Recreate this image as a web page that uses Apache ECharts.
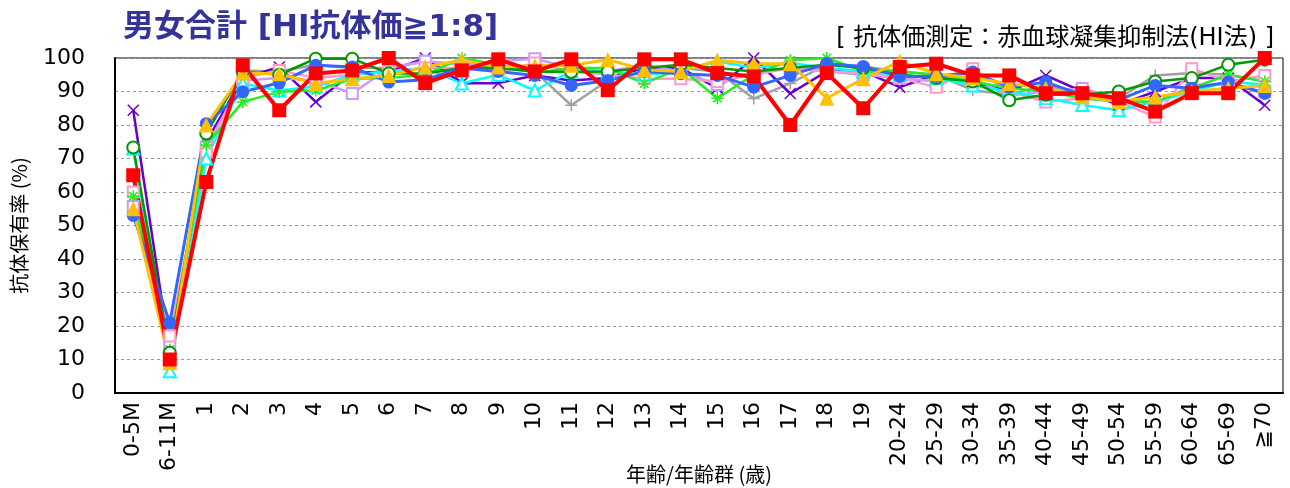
<!DOCTYPE html>
<html><head><meta charset="utf-8">
<script src="https://cdn.jsdelivr.net/npm/echarts@6/dist/echarts.min.js"></script>
<style>html,body{margin:0;padding:0;background:#fff}#c{width:1290px;height:488px}</style>
</head><body><div id="c"></div>
<script>
const categories = ['0-5M','6-11M','1','2','3','4','5','6','7','8','9','10','11','12','13','14','15','16','17','18','19','20-24','25-29','30-34','35-39','40-44','45-49','50-54','55-59','60-64','65-69','≧70'];
const yTicks = [0,10,20,30,40,50,60,70,80,90,100];

const sGray    = [57,13.6,72,96.3,96,98,97,97,99,98,97,96,85.9,93.3,96,97,96,87.9,92.4,98,97.5,96,95,90.4,89,92,89,88,94.8,95.5,95,93];
const sPurple  = [84.4,12,75,94,97.3,86.9,95.5,96,100,92.5,92.5,94.8,93.3,94,97,97,91,100,89.4,96,96,91.3,95,93,90,94.8,90,86,90,94,94,85.9];
const sLilac   = [55.7,14,73.4,93.3,94,93.3,89.4,97,99,98,99,99.8,97,96,98,96,92.1,96,97,96,95,94,93,94,88.8,90,90.9,88,86,92,92,90];
const sPink    = [60,17,72,94,96.3,94,95,96,97,97,95.8,98.5,96,95,93.8,93.8,93,95,97,96,95.5,94,91.3,96.8,90,86.9,88,87,82.4,96.8,93,94.8];
const sCyan    = [73,6.5,70,92.4,90.3,91.5,95,96,97,92.4,95,90.3,96,96,95,96,99,97,98.5,97,96,95,94,91.8,90,88,86,84.4,87,90,93,92];
const sGreen   = [58.7,13,74,86.9,89.9,90.3,93.8,94,95,100,98,95.6,97,97,92.4,97,88,95,99.3,100,96,96,95,93,91,90,88,87,87,91,95,93];
const sDkGreen = [73.3,12,77.5,96,95,99.8,99.8,95.4,95.4,97,97,96,95.8,96,97,98,97,96,97,98,97,95,94,93,87.4,89,89,90,93,94,98,99.5];
const sBlue    = [53,21,80.4,89.9,92.6,97.8,97.3,92.8,93.5,97,96,94.8,91.8,93.3,96,95.3,94.8,91.3,94.8,98.3,97.5,94.5,94.5,95.8,91.3,92.8,89,87.5,91.8,91,92.8,89.4];
const sYellow  = [55,9,80,95.5,95.3,92.4,93.8,94.8,97.3,99.4,97.3,97.7,97.8,99.5,96.5,96,99.3,98.3,98.3,88,93.8,99,95.3,94,92.4,91,88.5,87,88.4,90,91,91.8];
const sRed     = [65,10,63,97.8,84.4,95.4,96.3,100,92.5,96.3,99.6,96,99.6,90.4,99.6,99.6,95.5,94.5,80,95.5,85,97.3,98.3,94.8,94.8,89.5,89.5,88,84,89.5,89.5,100];

const FONT = "'DejaVu Sans','Noto Sans CJK JP',sans-serif";
const CJK = "'Noto Sans CJK JP',sans-serif";
const PLUS = 'path://M5,0V10M0,5H10';
const CROSS = 'path://M0,0L10,10M10,0L0,10';
const STAR = 'path://M5,0V10M0,5H10M1.5,1.5L8.5,8.5M8.5,1.5L1.5,8.5';

function strokeSeries(name, data, color, symbol, size, lw) {
  return { name, type: 'line', data, symbol, symbolSize: size,
    lineStyle: { color, width: lw },
    itemStyle: { color: 'rgba(0,0,0,0)', borderColor: color, borderWidth: 1.5 } };
}
function emptySeries(name, data, color, symbol, size, lw) {
  return { name, type: 'line', data, symbol, symbolSize: size,
    lineStyle: { color, width: lw },
    itemStyle: { color, borderColor: color, borderWidth: 1.5 } };
}
function fillSeries(name, data, color, symbol, size, lw) {
  return { name, type: 'line', data, symbol, symbolSize: size,
    lineStyle: { color, width: lw },
    itemStyle: { color, borderWidth: 0 } };
}

const chart = echarts.init(document.getElementById('c'), null, { renderer: 'canvas' });
chart.setOption({
  animation: false,
  backgroundColor: '#fff',
  title: [
    { text: '男女合計 [HI抗体価≧1:8]', left: 118, top: 7,
      textStyle: { fontFamily: FONT, fontWeight: 'bold', fontSize: 31, color: '#333399' } },
    { text: '[ 抗体価測定：赤血球凝集抑制法(HI法) ]', right: 11, top: 22,
      textStyle: { fontFamily: FONT, fontWeight: 'normal', fontSize: 24, color: '#000' } }
  ],
  grid: { left: 115, right: 7, top: 58, bottom: 95, show: true, borderColor: '#000', borderWidth: 1,
    containLabel: false, outerBoundsMode: 'none' },
  xAxis: {
    type: 'category', data: categories, boundaryGap: true,
    name: '年齢/年齢群 (歳)', nameLocation: 'middle', nameGap: 71, nameMoveOverlap: false,
    nameTextStyle: { fontFamily: CJK, fontSize: 20, color: '#000' },
    axisLine: { show: true, lineStyle: { color: '#000', width: 2 } },
    axisTick: { show: false },
    axisLabel: { interval: 0, rotate: 90, margin: 9, fontFamily: FONT, fontSize: 22, color: '#000' },
    splitLine: { show: false }
  },
  yAxis: {
    type: 'value', min: 0, max: 100, interval: 10,
    name: '抗体保有率 (%)', nameLocation: 'middle', nameGap: 86, nameMoveOverlap: false,
    nameTextStyle: { fontFamily: CJK, fontSize: 20, color: '#000' },
    axisLine: { show: true, lineStyle: { color: '#000', width: 2 } },
    axisTick: { show: false },
    axisLabel: { margin: 30, fontFamily: FONT, fontSize: 22, color: '#000', padding: [0, 0, 6, 0],
      formatter: v => (yTicks.indexOf(v) >= 0 ? String(v) : '') },
    splitLine: { show: true, lineStyle: { color: '#999', width: 1, type: [3, 3] } }
  },
  series: [
    strokeSeries('系列1', sGray, '#A0A0A0', PLUS, 12, 2.5),
    strokeSeries('系列2', sPurple, '#6600CC', CROSS, 11, 2.5),
    emptySeries('系列3', sLilac, '#CC99FF', 'emptyRect', 11, 2.5),
    emptySeries('系列4', sPink, '#FF99CC', 'emptyRect', 11, 2.5),
    emptySeries('系列5', sCyan, '#00FFFF', 'emptyTriangle', 12, 2.5),
    strokeSeries('系列6', sGreen, '#22EE22', STAR, 12, 2.5),
    emptySeries('系列7', sDkGreen, '#009900', 'emptyCircle', 12, 2.5),
    fillSeries('系列8', sBlue, '#3366FF', 'circle', 13, 3),
    fillSeries('系列9', sYellow, '#FFC000', 'triangle', 15, 3),
    fillSeries('系列10', sRed, '#FF0000', 'rect', 14, 4)
  ]
});
</script>
</body></html>
